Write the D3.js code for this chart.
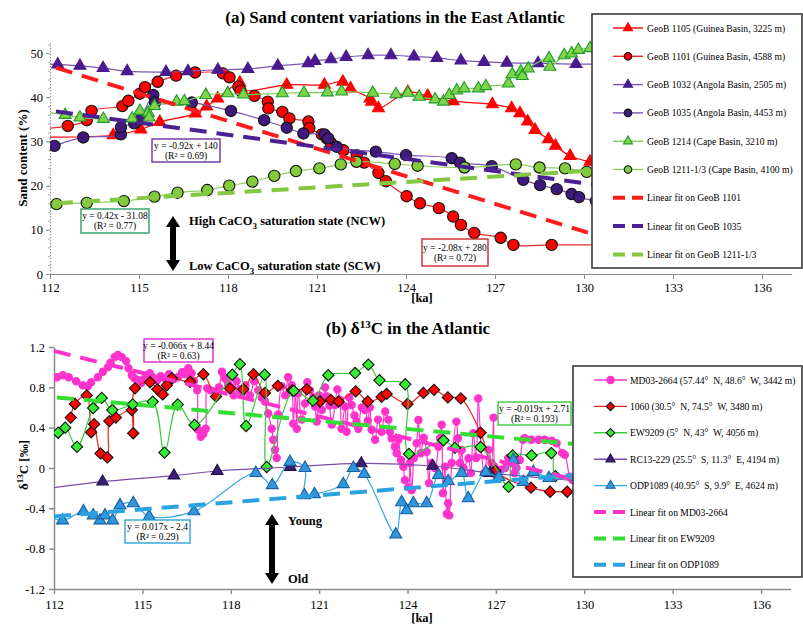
<!DOCTYPE html>
<html>
<head>
<meta charset="utf-8">
<script src="https://cdn.jsdelivr.net/npm/d3@7"></script>
<style>
  body { margin: 0; background: #fff; }
  text { font-family: "Liberation Serif", "Times New Roman", serif; }
</style>
</head>
<body>
<svg id="chart" width="803" height="625"></svg>
<script>
// ---- data: [age ka, value] ----
const ageTicks = [112, 115, 118, 121, 124, 127, 130, 133, 136];
const sandTicks = [0, 10, 20, 30, 40, 50];
const d13cTicks = [-1.2, -0.8, -0.4, 0, 0.4, 0.8, 1.2];

// (a) sand content (%)
const geob1105 = [[111.6,31.0],[114.13,31.4],[115.06,32.7],[115.7,34.4],[116.9,36.3],[117.28,37.9],[117.65,39.7],
  [118.4,43.3],[118.46,41.6],[119.98,42.8],[121.25,42.8],[121.87,43.5],[122.13,42.0],[122.79,39.7],[122.84,39.0],
  [123.07,37.5],[124.06,41.2],[124.73,40.3],[125.59,39.1],[126.91,38.4],[127.56,37.5],[127.84,36.4],[128.1,34.5],
  [128.35,32.6],[128.8,30.5],[129.04,29.0],[129.53,26.7],[130.2,25.4]];
const geob1101 = [[111.6,32.8],[112.6,33.5],[113.24,34.8],[113.4,36.9],[114.44,38.0],[114.64,39.2],[115.03,40.8],
  [115.2,42.3],[115.63,43.5],[116.25,44.9],[116.89,45.6],[117.83,45.4],[118.05,44.5],[118.35,42.4],[118.42,41.5],
  [118.89,40.3],[119.34,39.0],[119.36,37.5],[119.83,36.7],[120.07,35.2],[120.71,34.5],[120.74,33.0],[121.16,31.6],
  [121.33,30.7],[121.46,29.7],[121.89,28.0],[122.34,26.9],[122.59,25.2],[123.07,22.9],[123.32,21.0],[124.02,17.6],
  [124.47,16.0],[125.11,14.9],[125.59,13.0],[125.85,11.1],[126.3,9.3],[127.19,8.2],[127.62,6.6],[128.91,6.6],[130.6,6.6]];
const geob1032 = [[111.6,47.6],[112.26,47.4],[113.01,47.1],[113.79,46.6],[114.6,45.9],[115.91,45.7],[116.65,45.9],
  [117.66,46.2],[118.67,46.4],[119.68,47.1],[120.7,47.7],[120.93,48.2],[121.47,48.6],[121.98,49.1],[122.72,49.5],
  [123.49,49.5],[124.27,49.2],[125.04,48.9],[125.85,48.3],[126.63,48.0],[127.4,47.8],[128.45,47.7],[129.73,47.5],[130.6,47.5]];
const geob1035 = [[112.15,29.0],[113.12,30.9],[114.39,31.6],[114.39,33.2],[114.84,34.1],[115.07,35.7],[115.48,40.5],
  [115.54,38.8],[116.78,38.8],[118.1,36.9],[119.22,34.8],[119.98,33.1],[120.54,31.8],[121.25,31.6],[121.38,30.7],
  [121.66,28.8],[122.98,27.7],[124.0,26.9],[125.54,26.2],[125.82,25.2],[126.89,24.4],[127.95,21.3],[128.52,20.1],
  [129.08,19.2],[129.58,18.1],[129.83,17.4],[130.4,16.5]];
const geob1214 = [[111.6,36.9],[112.51,36.0],[113.01,35.4],[113.8,35.1],[114.77,35.2],[115.03,36.9],[115.31,36.5],
  [115.34,35.4],[115.52,38.0],[116.27,39.0],[116.53,39.1],[117.25,40.5],[117.99,40.9],[118.52,40.6],[119.83,40.9],
  [120.56,41.0],[121.35,41.1],[121.83,41.3],[122.88,41.0],[123.66,40.7],[124.06,41.0],[124.44,40.1],[124.98,39.5],
  [125.26,39.0],[125.46,40.5],[125.71,41.5],[125.96,42.0],[126.44,42.0],[126.69,42.5],[127.45,43.1],[127.58,45.2],
  [127.87,45.8],[127.92,44.8],[128.12,46.5],[128.82,48.8],[128.85,46.9],[129.33,49.5],[129.58,49.9],[129.81,50.7],[130.2,51.1]];
const geob1211 = [[112.22,15.8],[113.24,16.1],[114.49,16.5],[115.52,17.5],[116.3,18.4],[117.3,19.0],[118.04,20.0],
  [118.82,20.9],[119.56,22.2],[120.29,23.3],[121.08,23.9],[121.8,24.8],[122.33,25.4],[123.62,24.9],[124.39,24.5],
  [125.97,24.1],[127.7,24.8],[128.5,24.1],[129.36,23.9],[130.09,23.1]];
const fit1101 = [[112.2,46.7],[130.3,9.0]];
const fit1035 = [[112.2,36.8],[130.3,20.3]];
const fit1211 = [[112.2,16.0],[130.3,23.4]];

// (b) d13C (permil)
const md032664 = [[111.9,0.86],[112.1,0.90],[112.3,0.92],[112.5,0.90],[112.75,0.86],[112.97,0.82],[113.15,0.81],
  [113.26,0.85],[113.49,0.90],[113.66,0.955],[113.83,1.0],[113.92,1.045],[114.06,1.1],[114.17,1.12],[114.3,1.10],
  [114.45,1.06],[114.53,0.99],[114.64,0.92],[114.73,0.89],[114.85,0.87],[114.95,0.84],[115.05,0.88],[115.15,0.92],
  [115.25,0.94],[115.35,0.90],[115.5,0.87],[115.62,0.91],[115.75,0.89],[115.9,0.93],[116.05,0.88],[116.2,0.90],
  [116.35,0.95],[116.45,0.93],[116.56,0.99],[116.67,0.94],[116.75,0.86],[116.86,0.77],[116.89,0.38],[116.98,0.31],
  [117.07,0.34],[117.15,0.39],[117.2,0.79],[117.32,0.77],[117.48,0.76],[117.6,0.80],[117.7,0.955],[117.8,0.89],
  [117.9,0.84],[118.0,0.80],[118.1,0.72],[118.2,0.86],[118.3,0.78],[118.37,0.74],[118.5,0.82],[118.65,0.72],
  [118.8,0.86],[118.93,0.77],[119.05,0.70],[119.16,0.66],[119.27,0.54],[119.39,0.39],[119.44,0.28],[119.5,0.18],
  [119.56,0.10],[119.61,0.53],[119.73,0.81],[119.85,0.72],[119.95,0.90],[120.07,0.82],[120.12,0.44],[120.2,0.75],
  [120.24,0.39],[120.29,0.74],[120.41,0.48],[120.52,0.64],[120.6,0.85],[120.69,0.77],[120.8,0.70],[120.86,0.61],
  [120.92,0.46],[121.0,0.72],[121.09,0.575],[121.2,0.80],[121.26,0.71],[121.35,0.62],[121.43,0.43],[121.54,0.625],
  [121.62,0.78],[121.71,0.675],[121.76,0.39],[121.88,0.61],[121.93,0.36],[122.02,0.70],[122.1,0.625],[122.2,0.52],
  [122.27,0.46],[122.33,0.39],[122.45,0.60],[122.56,0.575],[122.65,0.47],[122.72,0.60],[122.78,0.38],[122.9,0.28],
  [123.0,0.48],[123.12,0.36],[123.24,0.56],[123.35,0.48],[123.4,0.36],[123.46,0.295],[123.57,0.21],[123.63,0.146],
  [123.69,0.28],[123.78,0.08],[123.86,0.013],[123.91,-0.12],[124.03,-0.19],[124.08,0.05],[124.14,-0.22],[124.22,0.10],
  [124.31,0.245],[124.37,0.476],[124.45,0.146],[124.55,0.30],[124.65,0.16],[124.73,-0.15],[124.8,0.05],[124.93,0.0],
  [125.05,0.21],[125.1,0.295],[125.16,0.43],[125.2,-0.25],[125.27,0.013],[125.33,-0.456],[125.38,-0.35],[125.42,-0.47],
  [125.5,0.05],[125.66,0.46],[125.71,0.295],[125.78,0.05],[125.84,0.18],[125.9,0.0],[126.07,0.096],[126.15,-0.05],
  [126.23,0.344],[126.33,0.1],[126.4,0.69],[126.5,0.2],[126.6,-0.05],[126.75,0.18],[126.85,0.05],[126.92,0.50],
  [126.95,0.013],[127.03,-0.1],[127.15,-0.02],[127.31,0.0],[127.42,0.1],[127.53,0.046],[127.62,-0.05],[127.7,0.0],
  [127.81,0.08],[127.92,0.28],[127.98,0.295],[128.2,0.28],[128.45,0.28],[128.66,0.28],[128.9,0.27],[129.06,0.245],
  [129.25,0.15],[129.34,0.13],[129.51,-0.086],[129.6,-0.12]];
const site1060 = [[112.57,0.50],[112.71,0.635],[113.11,0.72],[113.26,0.355],[113.36,0.435],[113.58,0.145],[113.81,0.105],
  [113.88,0.465],[114.1,0.50],[114.64,0.575],[114.69,0.345],[114.75,0.79],[115.26,0.85],[115.51,0.78],[115.69,0.73],
  [115.83,0.82],[116.0,0.89],[116.62,0.855],[117.07,0.93],[117.5,0.71],[117.97,0.79],[118.43,0.78],[118.77,0.93],
  [119.16,0.745],[119.6,0.815],[120.08,0.77],[120.58,0.78],[121.03,0.66],[121.4,0.675],[121.66,0.66],[122.24,0.76],
  [122.65,0.66],[123.12,0.705],[123.29,0.735],[124.0,0.635],[124.54,0.745],[124.9,0.775],[125.37,0.70],[125.81,0.69],
  [126.48,0.35],[126.98,-0.03],[128.19,-0.195],[128.84,-0.235],[129.42,-0.235],[130.0,-0.27]];
const ew9209 = [[112.14,0.35],[112.38,0.40],[112.78,0.21],[113.33,0.595],[113.62,0.695],[113.98,0.575],[114.67,0.63],
  [115.35,0.658],[115.75,0.153],[116.2,0.63],[116.77,0.427],[118.05,0.925],[118.31,1.03],[118.52,0.417],[119.15,0.925],
  [119.22,0.01],[120.14,0.765],[120.79,0.668],[121.31,0.92],[122.22,0.942],[122.67,1.025],[123.05,0.87],[123.92,0.83],
  [124.05,0.14],[125.22,0.275],[125.61,0.2],[126.48,0.208],[127.43,-0.187],[127.57,0.125],[128.21,0.125],[128.88,0.148],
  [129.02,-0.08],[129.8,-0.1]];
const rc13229 = [[111.6,-0.21],[113.65,-0.135],[116.07,-0.075],[117.54,-0.03],[120.02,0.01],[122.43,0.045],
  [124.85,0.02],[126.8,-0.05],[130.3,-0.14]];
const odp1089 = [[111.7,-0.47],[112.29,-0.52],[113.0,-0.43],[113.33,-0.47],[113.56,-0.52],[113.73,-0.47],[113.99,-0.52],
  [114.24,-0.37],[114.69,-0.35],[115.23,-0.48],[116.75,-0.43],[118.85,-0.05],[119.41,-0.17],[120.01,0.06],[120.52,0.0],
  [120.5,-0.27],[120.84,-0.26],[121.82,-0.16],[122.16,0.0],[122.53,-0.06],[123.6,-0.66],[123.8,-0.34],[123.97,-0.42],
  [124.2,-0.35],[124.65,-0.35],[125.05,-0.07],[125.38,-0.13],[125.84,-0.05],[126.06,-0.3],[126.66,-0.04],[127.1,-0.09],
  [127.59,0.08],[127.93,-0.14],[128.27,-0.04],[128.8,-0.1],[130.2,-0.08]];
const fitMD03 = [[112.0,1.16],[129.6,-0.11]];
const fitEW9209 = [[112.1,0.70],[129.6,0.24]];
const fitODP1089 = [[112.0,-0.48],[129.6,-0.07]];

// ---- styles ----
const seriesA = [
  {name: "GeoB 1105 (Guinea Basin, 3225 m)", data: geob1105, line: "#ff0000", marker: "tri", fill: "#ff0000", stroke: "#ff0000", size: 62},
  {name: "GeoB 1101 (Guinea Basin, 4588 m)", data: geob1101, line: "#e42a2a", marker: "circle", fill: "#ff0000", stroke: "#111", size: 100},
  {name: "GeoB 1032 (Angola Basin, 2505 m)", data: geob1032, line: "#7d55b2", marker: "tri", fill: "#4a1b8e", stroke: "#4a1b8e", size: 62},
  {name: "GeoB 1035 (Angola Basin, 4453 m)", data: geob1035, line: "#7d55b2", marker: "circle", fill: "#3f1a7c", stroke: "#111", size: 100},
  {name: "GeoB 1214 (Cape Basin, 3210 m)", data: geob1214, line: "#82cf55", marker: "tri", fill: "#7fd44a", stroke: "#1e9a2c", size: 62},
  {name: "GeoB 1211-1/3 (Cape Basin, 4100 m)", data: geob1211, line: "#8fd162", marker: "circle", fill: "#82cc3c", stroke: "#111", size: 100}
];
const fitsA = [
  {name: "Linear fit on GeoB 1101", data: fit1101, color: "#ff1c1c"},
  {name: "Linear fit on GeoB 1035", data: fit1035, color: "#4b1f96"},
  {name: "Linear fit on GeoB 1211-1/3", data: fit1211, color: "#83c742"}
];
const NB = "\u00a0";
const seriesB = [
  {name: `MD03-2664 (57.44°${NB} N, 48.6°${NB} W, 3442 m)`, data: md032664, line: "#ff33cc", marker: "circle", fill: "#ff33cc", stroke: "#ff33cc", size: 42},
  {name: `1060 (30.5°${NB} N, 74.5°${NB} W, 3480 m)`, data: site1060, line: "#e8261e", marker: "diamond", fill: "#ff0000", stroke: "#111", size: 64},
  {name: `EW9209 (5°${NB} N, 43°${NB} W, 4056 m)`, data: ew9209, line: "#38cc38", marker: "diamond", fill: "#33ee33", stroke: "#111", size: 64},
  {name: `RC13-229 (25.5°${NB} S, 11.3°${NB} E, 4194 m)`, data: rc13229, line: "#7a4aa8", marker: "tri", fill: "#3b1f72", stroke: "#22104a", size: 58},
  {name: `ODP1089 (40.95°${NB} S, 9.9°${NB} E, 4624 m)`, data: odp1089, line: "#35a9e2", marker: "tri", fill: "#2f97de", stroke: "#1a5f9e", size: 62}
];
const fitsB = [
  {name: "Linear fit on MD03-2664", data: fitMD03, color: "#ff33cc"},
  {name: "Linear fit on EW9209", data: fitEW9209, color: "#33dd33"},
  {name: "Linear fit on ODP1089", data: fitODP1089, color: "#2aa2e2"}
];

const svg = d3.select("#chart");
const defs = svg.append("defs");

const xA = d3.scaleLinear().domain([112, 137]).range([50, 791.7]);
const yA = d3.scaleLinear().domain([0, 52.5]).range([274, 42]);
const xB = d3.scaleLinear().domain([112, 137]).range([54, 790.5]);
const yB = d3.scaleLinear().domain([-1.2, 1.2]).range([589, 347]);

defs.append("clipPath").attr("id", "clipA").append("rect")
  .attr("x", 50).attr("y", 0).attr("width", 760).attr("height", 300);
defs.append("clipPath").attr("id", "clipB").append("rect")
  .attr("x", 54).attr("y", 320).attr("width", 760).attr("height", 290);

function symbolPath(type, size) {
  if (type === "circle") return d3.symbol(d3.symbolCircle, size)();
  if (type === "tri") return d3.symbol(d3.symbolTriangle, size)();
  return d3.symbol(d3.symbolSquare, size)();
}

function drawMarker(g, s, px, py, size) {
  g.append("path")
    .attr("d", symbolPath(s.marker, size))
    .attr("transform", `translate(${px},${py})` + (s.marker === "diamond" ? " rotate(45)" : ""))
    .attr("fill", s.fill)
    .attr("stroke", s.stroke)
    .attr("stroke-width", 1.1);
}

function drawSeries(g, x, y, s) {
  let line = d3.line()
    .x(d => x(d[0]))
    .y(d => y(d[1]))
    .curve(d3.curveCatmullRom.alpha(0.5));
  g.append("path")
    .datum(s.data)
    .attr("fill", "none")
    .attr("stroke", s.line)
    .attr("stroke-width", 1.2)
    .attr("d", line);
  s.data.forEach(d => drawMarker(g, s, x(d[0]), y(d[1]), s.size));
}

function drawFit(g, x, y, f) {
  g.append("path")
    .datum(f.data)
    .attr("fill", "none")
    .attr("stroke", f.color)
    .attr("stroke-width", 4)
    .attr("stroke-dasharray", "17,10")
    .attr("d", d3.line().x(d => x(d[0])).y(d => y(d[1])));
}

function axisStyle(g) {
  g.selectAll("path, line").attr("stroke", "#8c8c8c");
  g.selectAll("text").attr("fill", "#000").style("font-size", "12.5px")
    .style("font-family", "'Liberation Serif', serif");
}

function textBox(x0, y0, w, h, color, line1, line2) {
  svg.append("rect").attr("x", x0).attr("y", y0).attr("width", w).attr("height", h)
    .attr("fill", "#fff").attr("stroke", color).attr("stroke-width", 1.4);
  svg.append("text").attr("x", x0 + w / 2).attr("y", y0 + h / 2 - 2).attr("text-anchor", "middle")
    .style("font-size", "9.5px").text(line1);
  svg.append("text").attr("x", x0 + w / 2).attr("y", y0 + h / 2 + 8).attr("text-anchor", "middle")
    .style("font-size", "9.5px").text(line2);
}

function doubleArrow(cx, top, bottom) {
  let hw = 7, sw = 3, hl = 11;
  let p = d3.path();
  p.moveTo(cx, top);
  p.lineTo(cx + hw, top + hl);
  p.lineTo(cx + sw, top + hl);
  p.lineTo(cx + sw, bottom - hl);
  p.lineTo(cx + hw, bottom - hl);
  p.lineTo(cx, bottom);
  p.lineTo(cx - hw, bottom - hl);
  p.lineTo(cx - sw, bottom - hl);
  p.lineTo(cx - sw, top + hl);
  p.lineTo(cx - hw, top + hl);
  p.closePath();
  svg.append("path").attr("d", p.toString()).attr("fill", "#000");
}

function drawLegend(x0, y0, w, h, firstY, step, lx1, lx2, tx, series, fits) {
  let g = svg.append("g");
  g.append("rect").attr("x", x0).attr("y", y0).attr("width", w).attr("height", h)
    .attr("fill", "#fff").attr("stroke", "#3a3a3a").attr("stroke-width", 1.6);
  series.forEach((s, i) => {
    let yy = firstY + i * step;
    g.append("line").attr("x1", lx1).attr("x2", lx2).attr("y1", yy).attr("y2", yy)
      .attr("stroke", s.line).attr("stroke-width", 1.4);
    drawMarker(g, s, (lx1 + lx2) / 2, yy, s.marker === "circle" ? Math.min(s.size, 45) : 36);
    g.append("text").attr("x", tx).attr("y", yy + 3.5).style("font-size", "9.6px").text(s.name);
  });
  fits.forEach((f, j) => {
    let yy = firstY + (series.length + j) * step;
    g.append("line").attr("x1", lx1).attr("x2", lx2).attr("y1", yy).attr("y2", yy)
      .attr("stroke", f.color).attr("stroke-width", 4).attr("stroke-dasharray", "12,7");
    g.append("text").attr("x", tx).attr("y", yy + 3.5).style("font-size", "9.6px").text(f.name);
  });
}

// ================= panel (a) =================
svg.append("text").attr("x", 395).attr("y", 23).attr("text-anchor", "middle")
  .style("font-size", "17px").style("font-weight", "bold")
  .text("(a) Sand content variations in the East Atlantic");

let gyA = svg.append("g").attr("transform", "translate(50,0)")
  .call(d3.axisLeft(yA).tickValues(sandTicks).tickSize(4).tickSizeOuter(0).tickPadding(3).tickFormat(d => d));
axisStyle(gyA);
gyA.select(".domain").attr("stroke-dasharray", "1.5,1.5");
svg.append("g").attr("transform", "translate(50,0)")
  .call(d3.axisLeft(yA).tickValues(d3.range(0, 53, 2)).tickSize(2).tickFormat(""))
  .call(g => g.select(".domain").remove())
  .selectAll("line").attr("stroke", "#aaa");

let gxA = svg.append("g").attr("transform", "translate(0,274)")
  .call(d3.axisBottom(xA).tickValues(ageTicks).tickSize(5).tickSizeOuter(0).tickPadding(4).tickFormat(d => d));
axisStyle(gxA);

svg.append("text").attr("transform", "translate(27,158) rotate(-90)").attr("text-anchor", "middle")
  .style("font-size", "13px").style("font-weight", "bold").text("Sand content (%)");
svg.append("text").attr("x", 422).attr("y", 302).attr("text-anchor", "middle")
  .style("font-size", "12.5px").style("font-weight", "bold").text("[ka]");

let plotA = svg.append("g").attr("clip-path", "url(#clipA)");
seriesA.forEach(s => drawSeries(plotA, xA, yA, s));
fitsA.forEach(f => drawFit(plotA, xA, yA, f));

textBox(152, 139, 68, 23, "#7030a0", "y = -0.92x + 140", "(R² = 0.69)");
textBox(81, 209, 68, 24, "#25a06a", "y = 0.42x - 31.08", "(R² = 0.77)");
textBox(422, 239, 66, 27, "#cc2a2a", "y = -2.08x + 280", "(R² = 0.72)");

doubleArrow(173, 216, 271);
let hi = svg.append("text").attr("x", 189).attr("y", 225).style("font-size", "12.5px").style("font-weight", "bold");
hi.append("tspan").text("High CaCO");
hi.append("tspan").attr("dy", 4).style("font-size", "9px").text("3");
hi.append("tspan").attr("dy", -4).text(" saturation state (NCW)");
let lo = svg.append("text").attr("x", 189).attr("y", 270).style("font-size", "12.5px").style("font-weight", "bold");
lo.append("tspan").text("Low CaCO");
lo.append("tspan").attr("dy", 4).style("font-size", "9px").text("3");
lo.append("tspan").attr("dy", -4).text(" saturation state (SCW)");

drawLegend(592, 14, 210, 254, 28, 28.3, 613, 643, 647, seriesA, fitsA);

// ================= panel (b) =================
let tb = svg.append("text").attr("x", 408).attr("y", 334).attr("text-anchor", "middle")
  .style("font-size", "17px").style("font-weight", "bold");
tb.append("tspan").text("(b) δ");
tb.append("tspan").attr("dy", -6).style("font-size", "11px").text("13");
tb.append("tspan").attr("dy", 6).text("C in the Atlantic");

let gyB = svg.append("g").attr("transform", "translate(54,0)")
  .call(d3.axisLeft(yB).tickValues(d13cTicks).tickSize(5).tickSizeOuter(0).tickPadding(4)
    .tickFormat(d => d === 0 ? "0" : d.toFixed(1)));
axisStyle(gyB);
gyB.selectAll("path, line").attr("stroke-width", 1.5);

let gxB = svg.append("g").attr("transform", "translate(0,589)")
  .call(d3.axisBottom(xB).tickValues(ageTicks).tickSize(5).tickSizeOuter(0).tickPadding(6).tickFormat(d => d));
axisStyle(gxB);
gxB.selectAll("path, line").attr("stroke-width", 1.5);

let yl = svg.append("text").attr("transform", "translate(28,465) rotate(-90)").attr("text-anchor", "middle")
  .style("font-size", "13px").style("font-weight", "bold");
yl.append("tspan").text("δ");
yl.append("tspan").attr("dy", -5).style("font-size", "9px").text("13");
yl.append("tspan").attr("dy", 5).text("C [‰]");
svg.append("text").attr("x", 422).attr("y", 622).attr("text-anchor", "middle")
  .style("font-size", "12.5px").style("font-weight", "bold").text("[ka]");

let plotB = svg.append("g").attr("clip-path", "url(#clipB)");
seriesB.forEach(s => drawSeries(plotB, xB, yB, s));
fitsB.forEach(f => drawFit(plotB, xB, yB, f));

textBox(144, 339, 69, 23, "#e028c8", "y = -0.066x + 8.44", "(R² = 0.63)");
textBox(125, 520, 65, 23, "#2ba6d8", "y = 0.017x - 2.4", "(R² = 0.29)");
textBox(498, 402, 73, 23, "#3ccc3c", "y = -0.019x + 2.71", "(R² = 0.193)");

doubleArrow(272, 514, 584);
svg.append("text").attr("x", 288).attr("y", 525).style("font-size", "12.5px").style("font-weight", "bold").text("Young");
svg.append("text").attr("x", 288).attr("y", 583).style("font-size", "12.5px").style("font-weight", "bold").text("Old");

drawLegend(573, 366, 229, 211, 380, 26.4, 594, 627, 630, seriesB, fitsB);
</script>
</body>
</html>
